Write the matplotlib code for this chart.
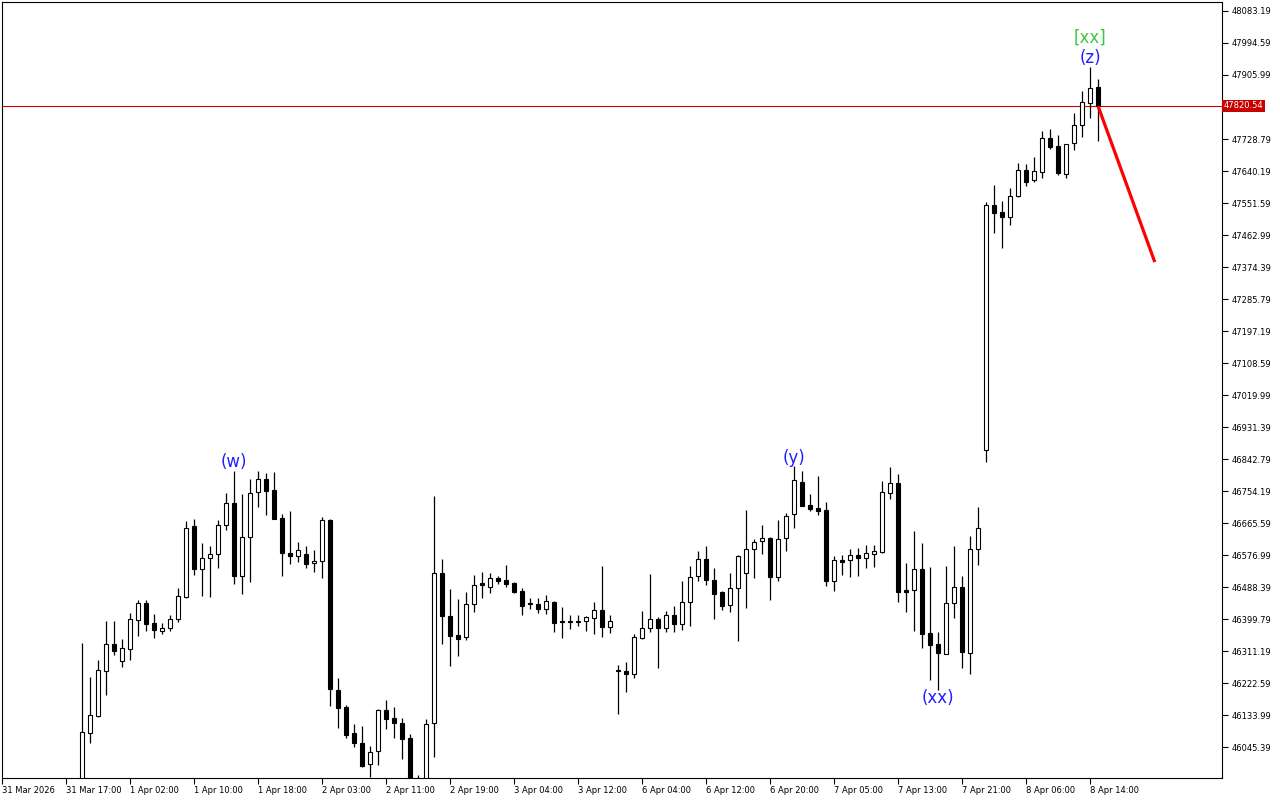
import matplotlib
matplotlib.use('Agg')
import matplotlib.pyplot as plt
import matplotlib.transforms as mtransforms
import numpy as np

# hourly candles (c1 .. c128)
opens = [45912, 46085, 46132, 46257, 46331, 46284, 46318, 46396, 46443, 46388,
         46367, 46374, 46399, 46461, 46656, 46537, 46570, 46579, 46659, 46721,
         46520, 46626, 46751, 46787, 46756, 46679, 46583, 46574, 46580, 46555,
         46560, 46674, 46202, 46156, 46083, 46056, 45997, 46033, 46148, 46125,
         46111, 46069, 45945, 45940, 46111, 46526, 46408, 46355, 46349, 46441,
         46499, 46488, 46513, 46508, 46499, 46477, 46443, 46441, 46428, 46447,
         46393, 46393, 46392, 46393, 46403, 46426, 46377, 46260, 46255, 46248,
         46348, 46374, 46401, 46374, 46410, 46385, 46448, 46518, 46566, 46508,
         46475, 46438, 46485, 46526, 46593, 46617, 46624, 46517, 46625, 46690,
         46778, 46716, 46707, 46702, 46506, 46563, 46562, 46577, 46569, 46581,
         46586, 46748, 46775, 46480, 46480, 46537, 46361, 46330, 46304, 46443,
         46488, 46306, 46593, 46867, 47546, 47526, 47512, 47570, 47643, 47615,
         47638, 47731, 47710, 47633, 47717, 47768, 47828, 47873]
highs = [46334, 46238, 46285, 46394, 46394, 46344, 46416, 46452, 46452, 46413,
         46390, 46410, 46485, 46671, 46678, 46610, 46601, 46674, 46748, 46810,
         46746, 46787, 46810, 46804, 46806, 46691, 46699, 46612, 46601, 46590,
         46681, 46678, 46236, 46162, 46108, 46103, 46048, 46151, 46175, 46156,
         46125, 46081, 45968, 46122, 46740, 46566, 46483, 46455, 46474, 46521,
         46530, 46527, 46519, 46549, 46502, 46486, 46458, 46458, 46466, 46450,
         46433, 46411, 46411, 46409, 46447, 46547, 46410, 46272, 46280, 46359,
         46421, 46524, 46404, 46422, 46435, 46504, 46546, 46587, 46602, 46541,
         46477, 46527, 46576, 46702, 46620, 46660, 46627, 46674, 46693, 46823,
         46810, 46746, 46796, 46724, 46574, 46577, 46593, 46596, 46604, 46604,
         46782, 46821, 46801, 46555, 46643, 46610, 46544, 46363, 46547, 46601,
         46519, 46630, 46710, 47553, 47601, 47557, 47592, 47662, 47660, 47679,
         47751, 47757, 47740, 47716, 47800, 47862, 47928, 47895]
lows = [45898, 46057, 46128, 46189, 46300, 46268, 46286, 46354, 46367, 46346,
        46359, 46367, 46392, 46459, 46522, 46464, 46461, 46540, 46645, 46498,
        46470, 46501, 46711, 46687, 46677, 46520, 46551, 46558, 46542, 46531,
        46512, 46160, 46099, 46071, 46046, 45991, 45961, 45996, 46094, 46071,
        46013, 45898, 45900, 45900, 46018, 46331, 46270, 46298, 46342, 46420,
        46459, 46473, 46498, 46489, 46473, 46412, 46428, 46417, 46414, 46365,
        46348, 46373, 46381, 46367, 46359, 46351, 46360, 46136, 46198, 46237,
        46344, 46365, 46265, 46365, 46364, 46370, 46380, 46506, 46495, 46401,
        46425, 46420, 46340, 46431, 46514, 46581, 46453, 46506, 46587, 46653,
        46714, 46700, 46689, 46492, 46478, 46522, 46517, 46520, 46542, 46545,
        46583, 46733, 46448, 46420, 46367, 46320, 46231, 46204, 46302, 46403,
        46265, 46248, 46548, 46834, 47468, 47428, 47490, 47568, 47599, 47611,
        47622, 47702, 47630, 47622, 47697, 47733, 47786, 47722]
closes = [46086, 46133, 46258, 46331, 46312, 46319, 46399, 46443, 46385, 46370,
          46374, 46399, 46463, 46653, 46537, 46570, 46579, 46659, 46720, 46520,
          46626, 46748, 46787, 46755, 46678, 46582, 46573, 46590, 46553, 46560,
          46673, 46206, 46154, 46079, 46056, 45993, 46031, 46148, 46124, 46113,
          46067, 45926, 45930, 46108, 46526, 46409, 46354, 46345, 46441, 46493,
          46495, 46512, 46506, 46498, 46475, 46437, 46440, 46428, 46450, 46390,
          46391, 46391, 46394, 46405, 46426, 46377, 46393, 46257, 46248, 46349,
          46374, 46401, 46374, 46410, 46385, 46448, 46515, 46565, 46507, 46470,
          46437, 46485, 46574, 46593, 46614, 46624, 46517, 46622, 46684, 46784,
          46714, 46704, 46700, 46506, 46562, 46558, 46576, 46569, 46583, 46588,
          46751, 46775, 46475, 46475, 46537, 46359, 46328, 46306, 46443, 46488,
          46309, 46593, 46651, 47546, 47525, 47512, 47570, 47643, 47611, 47640,
          47731, 47708, 47636, 47715, 47768, 47831, 47869, 47821]

bid_price = 47820.54
forecast_end = (134.1, 47388)

xtick_pos = [-10] + list(range(-2, 127, 8))
xtick_labels = ['31 Mar 2026', '31 Mar 17:00', '1 Apr 02:00', '1 Apr 10:00', '1 Apr 18:00',
                '2 Apr 03:00', '2 Apr 11:00', '2 Apr 19:00', '3 Apr 04:00', '3 Apr 12:00',
                '6 Apr 04:00', '6 Apr 12:00', '6 Apr 20:00', '7 Apr 05:00', '7 Apr 13:00',
                '7 Apr 21:00', '8 Apr 06:00', '8 Apr 14:00']
ytick_vals = [round(48083.19 - 88.6 * k, 2) for k in range(24)]

# wave labels: (text, candle index, price, colour)
wave_labels = [('(w)', 19, 46834, '#1E1EFF'),
               ('(y)', 89, 46845, '#1E1EFF'),
               ('(xx)', 107, 46181, '#1E1EFF'),
               ('(z)', 126, 47953, '#1E1EFF'),
               ('[xx]', 126, 48008, '#3CC83C')]

opens = np.array(opens, float)
highs = np.array(highs, float)
lows = np.array(lows, float)
closes = np.array(closes, float)
idx = np.arange(len(opens))

fig = plt.figure(figsize=(12.8, 8), dpi=100)
ax = fig.add_axes([2 / 1280, 22 / 800, 1220 / 1280, 776 / 800])

ax.vlines(idx, lows, highs, color='black', linewidth=0.9, zorder=2)
up = closes >= opens
bottom = np.minimum(opens, closes)
height = np.maximum(np.abs(closes - opens), 0.5)
ax.bar(idx, height, bottom=bottom, width=0.55,
       color=np.where(up, 'white', 'black'), edgecolor='black', linewidth=0.8, zorder=3)

# bid line and forecast
ax.axhline(bid_price, color='#D00000', linewidth=0.8, zorder=1)
ax.plot([idx[-1], forecast_end[0]], [bid_price, forecast_end[1]],
        color='#FF0000', linewidth=2.3, solid_capstyle='butt', zorder=4)

for txt, i, p, c in wave_labels:
    ax.text(i, p, txt, color=c, fontsize=12, ha='center', va='center', zorder=5)

ax.set_xlim(-10, 142.5)
ax.set_ylim(45959.6, 48108.1)

ax.set_xticks(xtick_pos)
ax.set_xticklabels(xtick_labels)
plt.setp(ax.get_xticklabels(), ha='left')
ax.tick_params(axis='x', direction='out', length=4, width=0.8, pad=2, labelsize=6)

ax.yaxis.tick_right()
ax.set_yticks(ytick_vals)
ax.set_yticklabels(['' if abs(v - bid_price) < 20 else f'{v:.2f}' for v in ytick_vals])
ax.tick_params(axis='y', direction='out', length=4, width=0.8, pad=3, labelsize=6)

for s in ax.spines.values():
    s.set_color('black')
    s.set_linewidth(0.8)

trans = mtransforms.blended_transform_factory(ax.transAxes, ax.transData)
ax.text(1.0015, bid_price, f'{bid_price:.2f}', transform=trans, color='white', fontsize=6,
        ha='left', va='center', clip_on=False, zorder=6,
        bbox=dict(facecolor='#C80000', edgecolor='none', pad=1.2))

fig.savefig('out.png', dpi=100, facecolor='white')
